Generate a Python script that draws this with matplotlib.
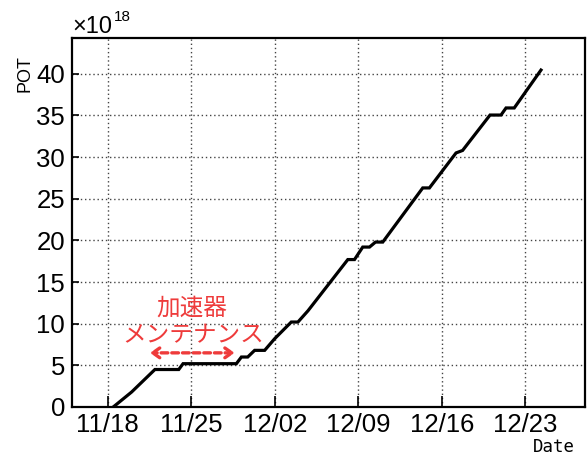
import datetime as dt
import matplotlib
matplotlib.use("Agg")
import matplotlib.pyplot as plt
import matplotlib.dates as mdates

# cumulative protons on target
start = dt.datetime(2019, 11, 15)
days = [3.46, 5.0, 6.95, 8.95, 9.31, 13.78, 14.2, 14.73, 15.31, 16.15,
        16.99, 18.38, 18.94, 19.78, 23.12, 23.68, 24.37, 24.94, 25.44,
        26.05, 29.4, 29.96, 32.19, 32.74, 35.04, 35.96, 36.38, 37.07, 39.31]
pot = [0.0, 1.8, 4.5, 4.5, 5.2, 5.2, 6.0, 6.0, 6.8, 6.8,
       8.2, 10.2, 10.2, 11.55, 17.7, 17.7, 19.2, 19.2, 19.8,
       19.8, 26.3, 26.3, 30.5, 30.8, 35.05, 35.05, 35.9, 35.9, 40.45]
tick_days = ["2019-11-18", "2019-11-25", "2019-12-02", "2019-12-09",
             "2019-12-16", "2019-12-23"]
maint_from, maint_to = 6.53, 13.64

times = [start + dt.timedelta(days=d) for d in days]
ticks = [dt.datetime.fromisoformat(t) for t in tick_days]

num_font = ["Liberation Sans", "DejaVu Sans"]
jp_font = ["Noto Sans CJK JP", "DejaVu Sans"]
red = "#ee3b3b"

fig = plt.figure(figsize=(5.88, 4.55), dpi=100)
ax = fig.add_axes([0.1224, 0.1055, 0.8725, 0.811])

ax.plot(times, pot, color="black", lw=2.3, solid_joinstyle="miter")

ax.set_xlim(start, start + dt.timedelta(days=43))
ax.set_ylim(0, 44.3)
ax.set_xticks(ticks)
ax.xaxis.set_major_formatter(mdates.DateFormatter("%m/%d"))
ax.set_yticks(range(0, 45, 5))
ax.grid(True, linestyle=(0, (1, 2)), color="#444444", lw=1.0)

ax.tick_params(axis="both", direction="in", width=1.2, color="black",
               labelsize=18.5)
ax.tick_params(axis="x", length=8, pad=4)
ax.tick_params(axis="y", length=5, pad=5)
for lab in ax.get_xticklabels() + ax.get_yticklabels():
    lab.set_family(num_font)
for sp in ax.spines.values():
    sp.set_linewidth(1.6)

# axis titles, ROOT style
fig.text(0.978, 0.0066, "Date", ha="right", va="baseline", fontsize=12.5,
         family=["DejaVu Sans Mono"])
fig.text(0.0425, 0.879, "POT", rotation=90, ha="center", va="top",
         fontsize=13, family=num_font)
fig.text(0.1224, 0.928, "×10", ha="left", va="baseline", fontsize=17,
         family=num_font)
fig.text(0.193, 0.9545, "18", ha="left", va="baseline", fontsize=11,
         family=num_font)

# maintenance note
ax.text(start + dt.timedelta(days=10.06), 11.9, "加速器", ha="center",
        va="center", fontsize=17, color=red, family=jp_font)
ax.text(start + dt.timedelta(days=10.15), 8.6, "メンテナンス", ha="center",
        va="center", fontsize=17, color=red, family=jp_font)
ax.annotate("", xy=(start + dt.timedelta(days=maint_from), 6.5),
            xytext=(start + dt.timedelta(days=maint_to), 6.5),
            arrowprops=dict(arrowstyle="<->,head_length=0.5,head_width=0.35",
                            color=red, lw=2.4, linestyle=(0, (2, 1.2)),
                            shrinkA=0, shrinkB=0))

fig.savefig("out.png", dpi=100)
